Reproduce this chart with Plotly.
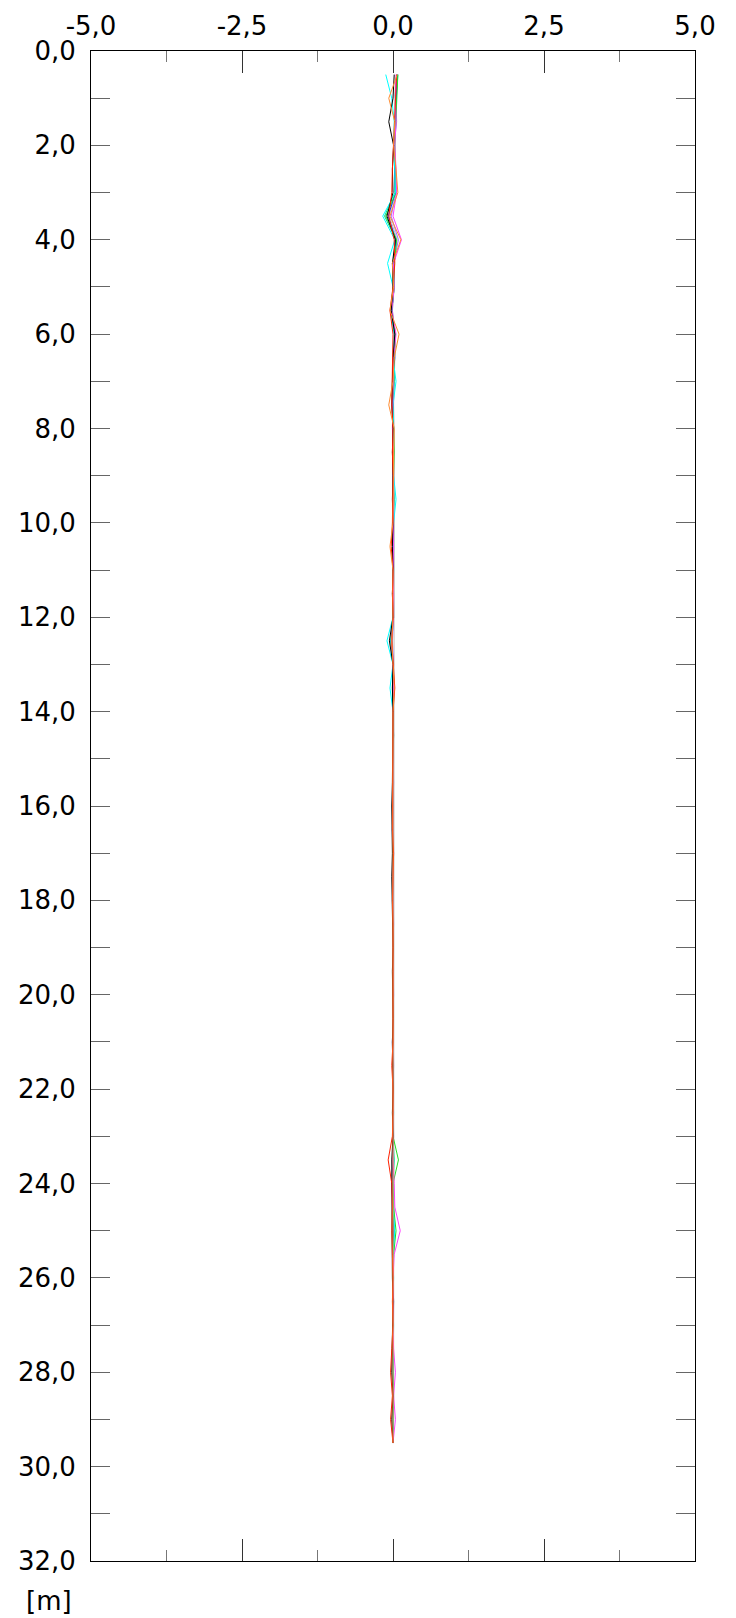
import plotly.graph_objects as go

depth = [0.5 * i for i in range(1, 60)]  # 0.5 .. 29.5 m

x_ticks = [-5.0, -2.5, 0.0, 2.5, 5.0]
x_labels = ["-5,0", "-2,5", "0,0", "2,5", "5,0"]
y_ticks = [0, 2, 4, 6, 8, 10, 12, 14, 16, 18, 20, 22, 24, 26, 28, 30, 32]
y_labels = ["0,0", "2,0", "4,0", "6,0", "8,0", "10,0", "12,0", "14,0", "16,0",
            "18,0", "20,0", "22,0", "24,0", "26,0", "28,0", "30,0", "32,0"]

s_gray = [0.06, 0.02, 0.04, 0.03, 0.03, 0.04, -0.06, 0.07, 0.02, 0.02,
          -0.01, 0.04, 0.03, 0.02, 0.01, 0.02, 0.02, 0.02, 0.01, 0.02,
          0.01, 0.02, 0.01, 0.02, 0.01, 0.01, 0.02, 0.02, 0.01, 0.02,
          0.01, 0.01, 0.02, 0.01, 0.02, 0.01, 0.02, 0.01, 0.01, 0.02,
          0.01, 0.02, 0.01, 0.01, 0.02, 0.01, 0.01, 0.02, 0.02, 0.01,
          0.02, 0.01, 0.02, 0.01, 0.01, 0.02, 0.01, 0.01, 0.00]
s_violet = [0.06, 0.05, 0.06, 0.02, 0.04, 0.05, -0.03, 0.09, 0.01, 0.01,
            -0.01, 0.03, 0.02, 0.01, 0.00, 0.00, 0.01, 0.00, 0.01, 0.00,
            0.01, 0.00, 0.01, 0.01, -0.01, 0.01, 0.00, 0.01, 0.01, 0.00,
            0.01, 0.00, 0.01, 0.01, 0.00, 0.01, 0.01, 0.00, 0.01, 0.01,
            0.00, 0.01, 0.01, 0.00, 0.01, 0.01, 0.00, 0.01, 0.01, 0.02,
            0.01, 0.00, 0.01, 0.01, 0.00, 0.01, 0.00, 0.01, 0.00]
s_aqua = [0.08, 0.05, 0.03, 0.02, 0.02, 0.03, -0.14, 0.05, 0.00, 0.01,
          -0.03, 0.03, 0.01, 0.02, 0.00, 0.01, 0.00, 0.00, 0.02, 0.00,
          0.00, 0.00, 0.00, 0.00, -0.04, 0.00, -0.01, 0.00, 0.00, 0.00,
          0.00, 0.00, 0.00, 0.00, 0.00, 0.00, 0.00, 0.00, 0.00, 0.00,
          0.00, 0.00, 0.00, 0.00, 0.00, 0.00, 0.02, 0.00, 0.00, 0.02,
          0.00, 0.00, 0.00, 0.00, 0.00, 0.00, 0.00, 0.00, 0.00]
s_blue = [0.07, 0.05, 0.03, 0.02, 0.03, 0.04, -0.08, 0.05, 0.01, 0.02,
          -0.02, 0.02, 0.03, 0.00, 0.00, 0.01, 0.01, 0.00, 0.00, -0.01,
          0.00, 0.00, -0.01, 0.00, -0.03, 0.00, 0.00, 0.00, 0.00, 0.01,
          0.00, 0.00, -0.01, 0.00, 0.00, 0.00, 0.00, 0.01, 0.00, 0.00,
          0.00, -0.01, 0.00, 0.00, 0.00, 0.00, 0.00, -0.02, 0.00, 0.00,
          0.00, 0.00, 0.01, 0.00, 0.00, 0.00, 0.00, 0.00, 0.00]
s_green = [0.08, 0.06, 0.04, 0.03, 0.04, 0.05, -0.12, 0.06, 0.02, 0.02,
           -0.02, 0.04, 0.02, 0.01, 0.00, 0.01, 0.02, 0.01, 0.01, 0.00,
           0.00, 0.01, 0.00, 0.01, -0.02, 0.00, 0.01, 0.00, 0.01, 0.00,
           0.00, 0.01, 0.00, 0.01, 0.00, 0.01, 0.00, 0.00, 0.01, 0.00,
           0.00, 0.01, 0.00, 0.00, 0.01, 0.00, 0.09, 0.00, 0.01, 0.05,
           0.01, 0.00, 0.01, 0.00, 0.00, 0.00, 0.01, 0.00, 0.00]
s_cyan = [-0.12, -0.02, 0.02, 0.01, 0.03, 0.04, -0.17, 0.03, -0.09, 0.00,
          -0.04, 0.02, 0.00, 0.05, 0.00, 0.01, 0.00, 0.01, 0.05, 0.01,
          0.00, 0.01, 0.00, 0.00, -0.10, 0.00, -0.05, 0.00, 0.00, 0.00,
          0.00, -0.01, 0.00, 0.00, 0.00, 0.00, 0.00, 0.00, 0.00, 0.00,
          0.00, 0.00, -0.01, 0.00, 0.01, 0.00, 0.01, 0.00, 0.00, 0.03,
          0.00, 0.01, 0.00, 0.01, 0.00, 0.00, 0.00, 0.00, 0.00]
s_magenta = [0.05, 0.04, 0.05, 0.03, 0.05, 0.06, 0.00, 0.14, 0.01, 0.02,
             -0.02, 0.05, 0.01, 0.00, 0.00, -0.01, 0.01, 0.01, 0.00, 0.00,
             0.00, 0.01, 0.00, 0.01, -0.02, 0.00, 0.01, 0.00, 0.00, 0.00,
             0.00, 0.00, 0.01, 0.00, 0.00, 0.01, 0.00, 0.01, 0.00, 0.00,
             0.00, 0.00, 0.00, 0.01, 0.00, 0.00, 0.00, 0.02, 0.03, 0.12,
             0.02, 0.00, 0.01, 0.00, 0.01, 0.04, 0.01, 0.04, 0.00]
s_black = [0.02, 0.00, -0.07, 0.01, -0.01, 0.00, -0.10, 0.04, -0.01, 0.00,
           -0.03, 0.03, 0.00, -0.01, -0.02, 0.00, -0.01, 0.00, -0.01, 0.00,
           -0.01, 0.00, -0.01, 0.00, -0.06, 0.00, -0.01, 0.00, 0.00, -0.01,
           -0.01, -0.02, -0.01, -0.01, -0.02, -0.01, -0.01, 0.00, -0.01, 0.00,
           0.00, -0.01, 0.00, 0.00, -0.01, 0.00, -0.02, -0.02, -0.01, -0.01,
           -0.01, -0.01, 0.00, -0.01, -0.01, -0.02, 0.00, -0.02, 0.00]
s_red = [0.06, 0.04, 0.02, 0.00, -0.01, -0.02, -0.07, 0.02, 0.03, 0.00,
         -0.05, 0.00, -0.01, -0.02, -0.02, 0.00, -0.01, 0.00, 0.00, -0.01,
         -0.03, 0.00, -0.01, 0.00, -0.02, 0.00, 0.03, 0.00, 0.00, 0.00,
         -0.01, 0.00, -0.01, 0.01, 0.00, -0.01, 0.00, 0.00, 0.00, -0.01,
         0.00, 0.00, -0.02, 0.00, 0.00, -0.01, -0.08, -0.02, -0.01, -0.02,
         -0.01, 0.00, -0.01, 0.00, -0.02, -0.04, -0.01, -0.04, 0.00]
s_orange = [0.07, -0.07, 0.03, 0.01, 0.05, 0.08, -0.05, 0.13, -0.01, 0.01,
            -0.05, 0.10, 0.02, 0.00, -0.07, 0.02, 0.01, 0.01, 0.00, 0.00,
            -0.05, 0.00, 0.00, 0.00, -0.02, 0.00, 0.02, 0.00, 0.00, 0.00,
            0.00, 0.01, 0.00, 0.00, 0.01, 0.00, 0.00, 0.00, 0.01, 0.00,
            0.00, 0.00, 0.00, 0.00, 0.00, 0.01, 0.00, 0.00, 0.01, 0.00,
            0.00, 0.01, 0.00, 0.00, 0.00, 0.01, 0.00, 0.01, 0.00]

series = [
    (s_gray, "#c0c0c0"),
    (s_violet, "#a070ff"),
    (s_aqua, "#00d890"),
    (s_blue, "#0030ff"),
    (s_green, "#20e020"),
    (s_cyan, "#00ffff"),
    (s_magenta, "#ff40ff"),
    (s_black, "#000000"),
    (s_red, "#ff2000"),
    (s_orange, "#ff8c30"),
]

FONT = "DejaVu Sans"

fig = go.Figure()
for vals, col in series:
    fig.add_trace(go.Scatter(x=vals, y=depth, mode="lines",
                             line=dict(color=col, width=1),
                             showlegend=False, hoverinfo="skip"))

fig.update_layout(
    width=728, height=1610,
    margin=dict(l=83, r=41, t=43, b=57),
    paper_bgcolor="white", plot_bgcolor="white",
    font=dict(family=FONT, size=26, color="black"),
    showlegend=False,
)
fig.update_xaxes(
    side="top", range=[-5, 5], tickvals=x_ticks, ticktext=x_labels,
    ticks="inside", ticklen=22, tickwidth=1, tickcolor="#333333",
    minor=dict(dtick=1.25, tick0=0, ticks="inside", ticklen=11,
               tickcolor="#777777", tickwidth=1, showgrid=False),
    showline=True, linecolor="black", linewidth=1, mirror="ticks",
    showgrid=False, zeroline=False, ticklabelstandoff=5, automargin=False,
)
fig.update_yaxes(
    range=[32, 0], tickvals=y_ticks, ticktext=y_labels,
    ticks="inside", ticklen=19, tickwidth=1, tickcolor="#666666",
    minor=dict(dtick=1, tick0=0, ticks="inside", ticklen=19,
               tickcolor="#666666", tickwidth=1, showgrid=False),
    showline=True, linecolor="black", linewidth=1, mirror="ticks",
    showgrid=False, zeroline=False, ticklabelstandoff=9, automargin=False,
)
fig.add_annotation(text="[m]", xref="paper", yref="paper",
                   x=-0.028, y=-0.0265, xanchor="right", yanchor="middle",
                   showarrow=False, font=dict(family=FONT, size=26, color="black"))

fig.write_html("out.html")
